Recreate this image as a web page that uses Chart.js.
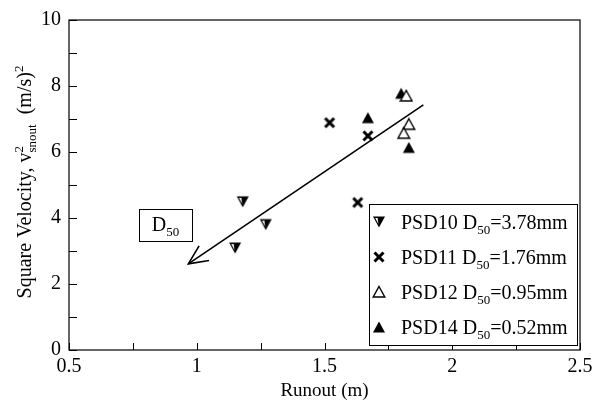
<!DOCTYPE html>
<html>
<head>
<meta charset="utf-8">
<script src="https://cdn.jsdelivr.net/npm/chart.js@4.4.0/dist/chart.umd.min.js"></script>
<style>
  html, body { margin: 0; padding: 0; background: #fff; }
  #wrap { width: 611px; height: 404px; }
</style>
</head>
<body>
<div id="wrap"><canvas id="runoutChart" width="611" height="404"></canvas></div>
<script>
// runout (m) and square velocity (m/s)^2
const psd10Runout = [1.18, 1.27, 1.15];
const psd10Vel = [4.49, 3.80, 3.09];
const psd11Runout = [1.52, 1.67, 1.63];
const psd11Vel = [6.89, 6.49, 4.47];
const psd12Runout = [1.82, 1.83, 1.81];
const psd12Vel = [7.70, 6.84, 6.57];
const psd14Runout = [1.80, 1.67, 1.83];
const psd14Vel = [7.78, 7.04, 6.14];

const seriesNames = ['PSD10', 'PSD11', 'PSD12', 'PSD14'];
const seriesD50 = ['3.78mm', '1.76mm', '0.95mm', '0.52mm'];

// trend arrow, drawn from upper right toward lower left
const arrowRunout = [1.887, 0.967];
const arrowVel = [7.43, 2.61];

const xTicks = [0.5, 1, 1.5, 2, 2.5];
const yTicks = [0, 2, 4, 6, 8, 10];

const SERIF = '"Liberation Serif", "DejaVu Serif", serif';
const BIG = 20, SMALL = 13;

function pairs(xs, ys) {
  return xs.map((x, i) => ({ x: x, y: ys[i] }));
}

// small canvases used as point styles
function makeMarker(kind) {
  const c = document.createElement('canvas');
  c.width = 14; c.height = 14;
  const g = c.getContext('2d');
  g.fillStyle = '#000';
  g.strokeStyle = '#000';
  if (kind === 'down') {
    g.beginPath();
    g.moveTo(1, 1.5); g.lineTo(13, 1.5); g.lineTo(7, 12.5); g.closePath();
    g.fill();
    g.fillStyle = '#fff';
    g.beginPath();
    g.moveTo(3.2, 3); g.lineTo(5.6, 3); g.lineTo(6.4, 9); g.closePath();
    g.fill();
  } else if (kind === 'cross') {
    g.lineWidth = 3;
    g.beginPath();
    g.moveTo(2.5, 2.5); g.lineTo(11.5, 11.5);
    g.moveTo(11.5, 2.5); g.lineTo(2.5, 11.5);
    g.stroke();
  } else if (kind === 'open') {
    g.fillStyle = '#fff';
    g.lineWidth = 1.4;
    g.beginPath();
    g.moveTo(7, 1.5); g.lineTo(12.8, 12); g.lineTo(1.2, 12); g.closePath();
    g.fill(); g.stroke();
  } else {
    g.beginPath();
    g.moveTo(7, 1.5); g.lineTo(13, 12.5); g.lineTo(1, 12.5); g.closePath();
    g.fill();
  }
  return c;
}

const markers = [makeMarker('down'), makeMarker('cross'), makeMarker('open'), makeMarker('fill')];

function isLabelled(v, list) {
  return list.some(t => Math.abs(t - v) < 1e-6);
}

// text with a lowered (sub) or raised (sup) part
function drawRich(ctx, parts, x, y) {
  let cx = x;
  parts.forEach(p => {
    ctx.font = (p.small ? SMALL : BIG) + 'px ' + SERIF;
    const dy = p.sub ? 5 : (p.sup ? -8 : 0);
    ctx.fillText(p.t, cx, y + dy);
    cx += ctx.measureText(p.t).width;
  });
  return cx - x;
}

function richWidth(ctx, parts) {
  let w = 0;
  parts.forEach(p => {
    ctx.font = (p.small ? SMALL : BIG) + 'px ' + SERIF;
    w += ctx.measureText(p.t).width;
  });
  return w;
}

const decorations = {
  id: 'decorations',
  afterDraw(chart) {
    const ctx = chart.ctx;
    const area = chart.chartArea;
    const xs = chart.scales.x;
    const ys = chart.scales.y;
    ctx.save();
    ctx.strokeStyle = '#000';
    ctx.fillStyle = '#000';

    // frame
    ctx.lineWidth = 1.2;
    ctx.strokeRect(area.left, area.top, area.right - area.left, area.bottom - area.top);

    // inward ticks
    ctx.lineWidth = 1;
    ctx.beginPath();
    xs.ticks.forEach(t => {
      const px = Math.round(xs.getPixelForValue(t.value)) + 0.5;
      ctx.moveTo(px, area.bottom);
      ctx.lineTo(px, area.bottom - 7);
    });
    ys.ticks.forEach(t => {
      const py = Math.round(ys.getPixelForValue(t.value)) + 0.5;
      ctx.moveTo(area.left, py);
      ctx.lineTo(area.left + 8, py);
    });
    ctx.stroke();

    // arrow head at the lower-left end
    const tipX = xs.getPixelForValue(arrowRunout[1]);
    const tipY = ys.getPixelForValue(arrowVel[1]);
    const tailX = xs.getPixelForValue(arrowRunout[0]);
    const tailY = ys.getPixelForValue(arrowVel[0]);
    const ang = Math.atan2(tailY - tipY, tailX - tipX);
    const barb = 21, spread = 25 * Math.PI / 180;
    ctx.lineWidth = 1.6;
    ctx.beginPath();
    ctx.moveTo(tipX + barb * Math.cos(ang + spread), tipY + barb * Math.sin(ang + spread));
    ctx.lineTo(tipX, tipY);
    ctx.lineTo(tipX + barb * Math.cos(ang - spread), tipY + barb * Math.sin(ang - spread));
    ctx.stroke();

    // D50 label box
    const dParts = [{ t: 'D' }, { t: '50', small: true, sub: true }];
    const dW = richWidth(ctx, dParts);
    const bx = 139, by = 209, bw = 53, bh = 32;
    ctx.lineWidth = 1;
    ctx.strokeRect(bx + 0.5, by + 0.5, bw, bh);
    ctx.textBaseline = 'alphabetic';
    ctx.textAlign = 'left';
    drawRich(ctx, dParts, bx + (bw - dW) / 2, by + 22);

    // legend
    const lx = 369, ly = 204, lw = area.right - 3 - lx, lh = area.bottom - 5 - ly;
    ctx.fillStyle = '#fff';
    ctx.fillRect(lx, ly, lw, lh);
    ctx.strokeRect(lx + 0.5, ly + 0.5, lw, lh);
    ctx.fillStyle = '#000';
    seriesNames.forEach((name, i) => {
      const rowY = ly + 18 + i * 35;
      ctx.drawImage(markers[i], lx + 3, rowY - 7, 14, 14);
      drawRich(ctx, [
        { t: name + ' D' },
        { t: '50', small: true, sub: true },
        { t: '=' + seriesD50[i] }
      ], lx + 32, rowY + 7);
    });

    // y axis title, rotated
    ctx.translate(24, 182);
    ctx.rotate(-Math.PI / 2);
    const head = [{ t: 'Square Velocity, v' }];
    const two = [{ t: '2', small: true, sup: true }];
    const snout = [{ t: 'snout', small: true, sub: true }];
    const unit = [{ t: '  (m/s)' }, { t: '2', small: true, sup: true }];
    const wHead = richWidth(ctx, head);
    const wTwo = richWidth(ctx, two);
    const wSub = richWidth(ctx, snout);
    const total = wHead + Math.max(wTwo, wSub) + richWidth(ctx, unit);
    const sx = -total / 2;
    drawRich(ctx, head, sx, 7);
    drawRich(ctx, two, sx + wHead, 7);
    drawRich(ctx, snout, sx + wHead, 7);
    drawRich(ctx, unit, sx + wHead + Math.max(wTwo, wSub), 7);

    ctx.restore();
  }
};

const ctx = document.getElementById('runoutChart');
new Chart(ctx, {
  data: {
    datasets: [
      { type: 'scatter', label: seriesNames[0], data: pairs(psd10Runout, psd10Vel), pointStyle: markers[0], pointRadius: 7 },
      { type: 'scatter', label: seriesNames[1], data: pairs(psd11Runout, psd11Vel), pointStyle: markers[1], pointRadius: 7 },
      { type: 'scatter', label: seriesNames[2], data: pairs(psd12Runout, psd12Vel), pointStyle: markers[2], pointRadius: 7 },
      { type: 'scatter', label: seriesNames[3], data: pairs(psd14Runout, psd14Vel), pointStyle: markers[3], pointRadius: 7 },
      {
        type: 'line', label: 'trend', data: pairs(arrowRunout, arrowVel),
        borderColor: '#000', borderWidth: 1.6, pointRadius: 0, fill: false, order: 10
      }
    ]
  },
  options: {
    responsive: false,
    animation: false,
    events: [],
    layout: { padding: { left: 0, top: 16, right: 31, bottom: 0 } },
    plugins: { legend: { display: false }, tooltip: { enabled: false } },
    scales: {
      x: {
        type: 'linear', min: 0.5, max: 2.5,
        afterFit(s) { s.height = 54; },
        grid: { display: false, drawTicks: false },
        border: { display: false },
        ticks: {
          stepSize: 0.25, color: '#000', padding: 5, maxRotation: 0, autoSkip: false,
          font: { family: SERIF, size: BIG },
          callback: v => isLabelled(v, xTicks) ? String(v) : ''
        },
        title: { display: true, text: 'Runout (m)', color: '#000', font: { family: SERIF, size: 19 }, padding: { top: 0, bottom: 2 } }
      },
      y: {
        type: 'linear', min: 0, max: 10,
        afterFit(s) { s.width = 69; },
        grid: { display: false, drawTicks: false },
        border: { display: false },
        ticks: {
          stepSize: 1, color: '#000', padding: 8, autoSkip: false,
          font: { family: SERIF, size: BIG },
          callback: v => isLabelled(v, yTicks) ? String(v) : ''
        }
      }
    }
  },
  plugins: [decorations]
});
</script>
</body>
</html>
